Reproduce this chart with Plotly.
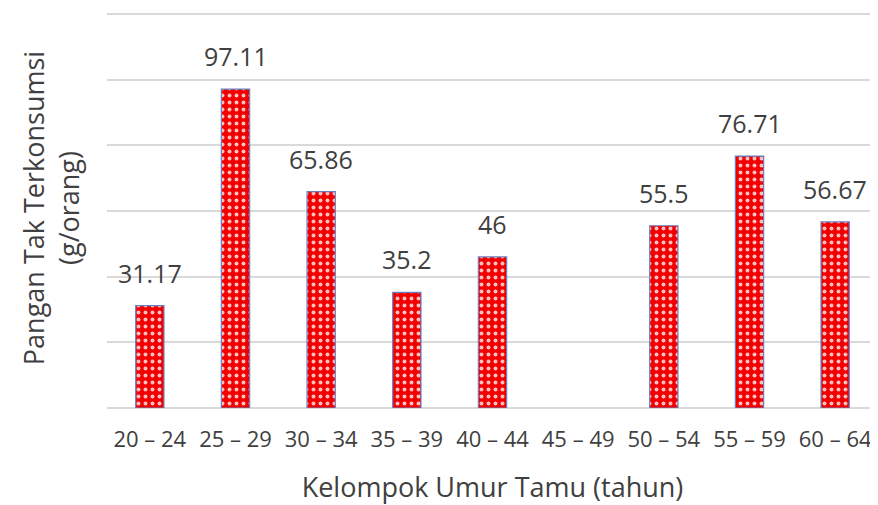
import plotly.graph_objects as go

categories = ["20 – 24", "25 – 29", "30 – 34", "35 – 39", "40 – 44", "45 – 49", "50 – 54", "55 – 59", "60 – 64"]
values = [31.17, 97.11, 65.86, 35.2, 46, None, 55.5, 76.71, 56.67]
labels = ["31.17", "97.11", "65.86", "35.2", "46", "", "55.5", "76.71", "56.67"]

FONT = "Open Sans, Liberation Sans, sans-serif"
TXT = "#404040"

fig = go.Figure()
fig.add_trace(go.Bar(
    x=categories, y=values, width=0.33,
    marker=dict(
        color="#ff0000",
        line=dict(color="#6a7fc0", width=1.2),
        pattern=dict(shape=".", fgcolor="#ffc0c0", bgcolor="#f20000", size=7, solidity=0.25, fillmode="replace"),
    ),
    hoverinfo="x+y",
))

for c, v, t in zip(categories, values, labels):
    if v is not None:
        fig.add_annotation(x=c, y=v, text=t, showarrow=False, yshift=33,
                           font=dict(size=25, color=TXT, family=FONT))

fig.update_layout(
    width=870, height=497,
    margin=dict(l=99, r=0, t=0, b=97, autoexpand=False),
    paper_bgcolor="white", plot_bgcolor="white",
    showlegend=False,
    font=dict(family=FONT, color=TXT),
)
fig.update_xaxes(
    tickfont=dict(size=22, color=TXT), ticklabelstandoff=16,
    title=dict(text="Kelompok Umur Tamu (tahun)", font=dict(size=27, color=TXT), standoff=26),
    showline=False, showgrid=False, ticks="", automargin=False,
)
fig.update_yaxes(
    range=[0, 121.8], tickvals=[0, 20, 40, 60, 80, 100, 120], showticklabels=False,
    showgrid=True, gridcolor="#d9d9d9", gridwidth=1.5,
    zeroline=True, zerolinecolor="#d9d9d9", zerolinewidth=1.5,
    title=dict(text="Pangan Tak Terkonsumsi<br>(g/orang)", font=dict(size=27, color=TXT), standoff=18),
    automargin=False,
)

fig.write_html("out.html")
